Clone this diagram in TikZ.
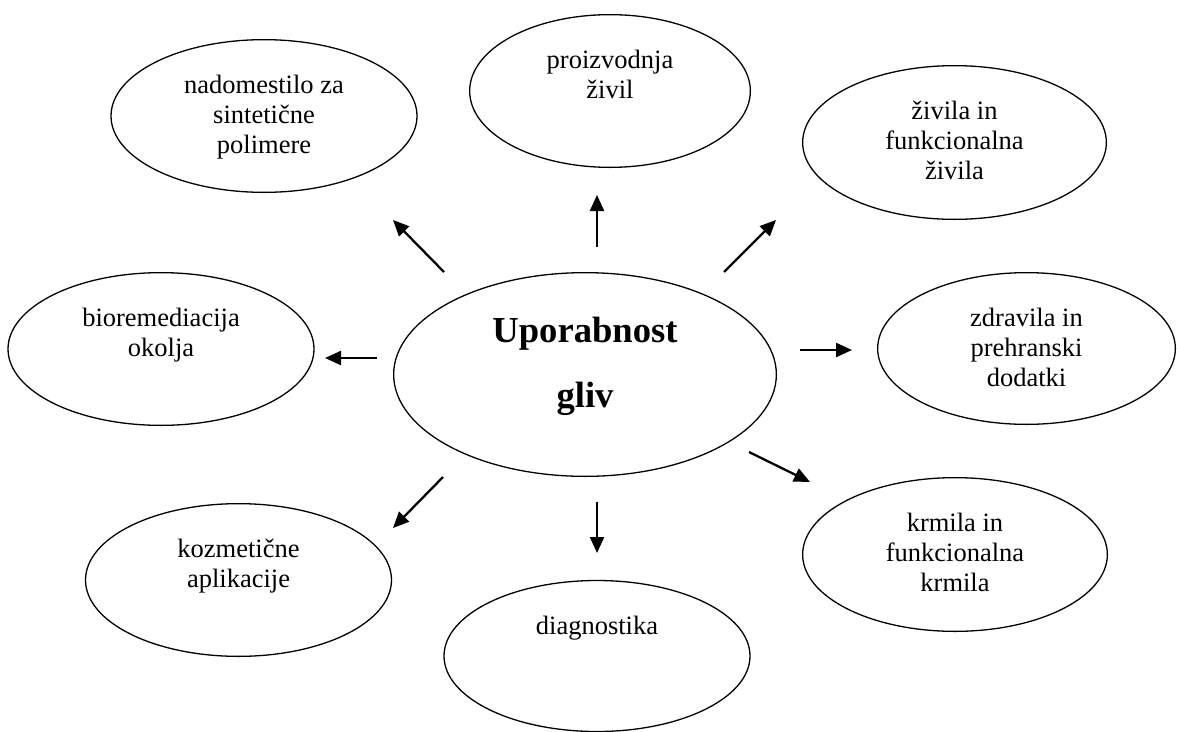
\documentclass[tikz,border=0pt]{standalone}
\usepackage{fontspec}
\setmainfont{Liberation Serif}
\usetikzlibrary{arrows.meta,positioning,shapes.geometric}

\begin{document}
\begin{tikzpicture}[
    x=1pt,y=-1pt,
    bubble/.style={draw,ellipse,line width=1.3pt,minimum width=306pt,minimum height=152.7pt,inner sep=0pt},
    txt/.style={align=center,inner sep=0pt,font=\fontsize{26.5}{30}\selectfont},
    hubtxt/.style={align=center,inner sep=0pt,font=\bfseries\fontsize{36.6}{65}\selectfont},
    arr/.style={-{Triangle[length=16pt,width=14pt]},line width=2.3pt}
]
\useasboundingbox (0,0) rectangle (1177,731);

\node[bubble,minimum width=382.7pt,minimum height=203.7pt] (hub) at (585,374.5) {};
\node[hubtxt,below=25pt of hub.north] (hub-txt) {\strut Uporabnost\\gliv};

\node[bubble] (synth) at (264,116) {};
\node[txt,below=33pt of synth.north] (synth-txt) {\strut nadomestilo za\\sintetične\\polimere};
\node[bubble,minimum width=280.7pt] (prod) at (610,91) {};
\node[txt,below=33pt of prod.north] (prod-txt) {\strut proizvodnja\\živil};
\node[bubble,minimum width=303.7pt,minimum height=153.7pt] (food) at (954.5,142.5) {};
\node[txt,below=33pt of food.north] (food-txt) {\strut živila in\\funkcionalna\\živila};
\node[bubble] (bio) at (161,349) {};
\node[txt,below=33pt of bio.north] (bio-txt) {\strut bioremediacija\\okolja};
\node[bubble,minimum width=297.7pt,minimum height=151.7pt] (drugs) at (1026.5,348.5) {};
\node[txt,below=33pt of drugs.north] (drugs-txt) {\strut zdravila in\\prehranski\\dodatki};
\node[bubble] (cosm) at (238.5,580) {};
\node[txt,below=33pt of cosm.north] (cosm-txt) {\strut kozmetične\\aplikacije};
\node[bubble,minimum height=151pt] (diag) at (597,656) {};
\node[txt,below=33pt of diag.north] (diag-txt) {\strut diagnostika};
\node[bubble,minimum width=304.7pt,minimum height=153.7pt] (feed) at (955,554.5) {};
\node[txt,below=33pt of feed.north] (feed-txt) {\strut krmila in\\funkcionalna\\krmila};

\coordinate (s-synth) at (444,272); \coordinate (e-synth) at (393,220);
\coordinate (s-prod) at (597,247);  \coordinate (e-prod) at (597,195);
\coordinate (s-food) at (724,272);  \coordinate (e-food) at (776,220);
\coordinate (s-bio) at (377,358);   \coordinate (e-bio) at (325,358);
\coordinate (s-drugs) at (800,350); \coordinate (e-drugs) at (852,350);
\coordinate (s-cosm) at (443,477);  \coordinate (e-cosm) at (393,528);
\coordinate (s-diag) at (597,502);  \coordinate (e-diag) at (597,553);
\coordinate (s-feed) at (749,452);  \coordinate (e-feed) at (810,482);
\foreach \n in {synth,prod,food,bio,drugs,cosm,diag,feed}
    \draw[arr] (s-\n) -- (e-\n);
\end{tikzpicture}
\end{document}
